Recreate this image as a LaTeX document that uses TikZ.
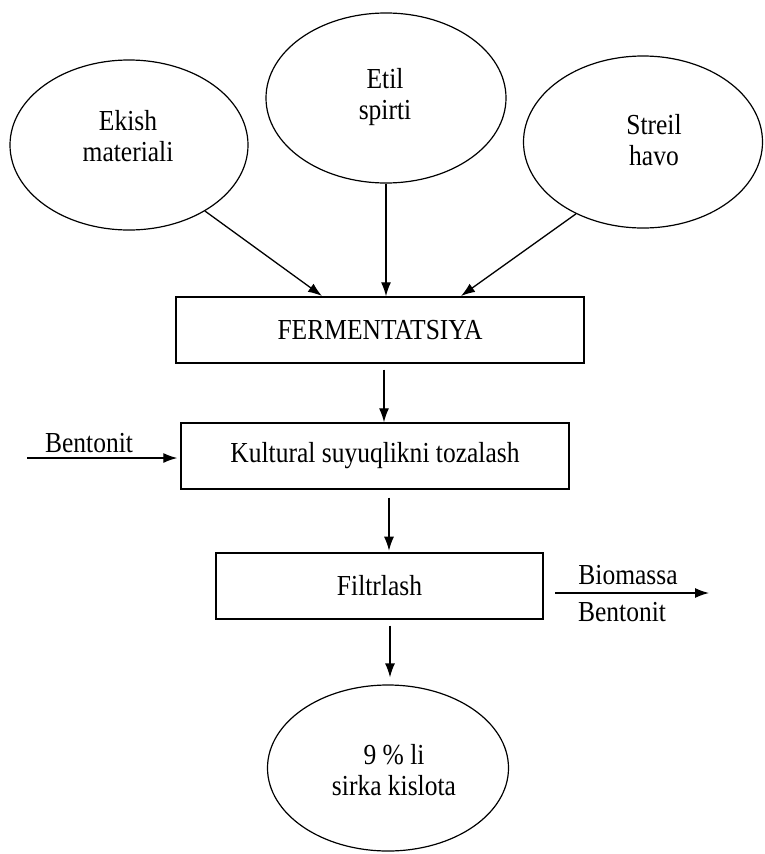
\documentclass[tikz,border=0pt]{standalone}
\usepackage{fontspec}
\setmainfont{Liberation Serif}[FakeStretch=0.88]
\usetikzlibrary{shapes.geometric,arrows.meta,calc}
\begin{document}
\begin{tikzpicture}[x=1pt,y=-1pt,
  every node/.style={font=\fontsize{29}{31}\selectfont},
  feed/.style={ellipse,draw,line width=1.2pt,inner sep=0pt},
  txt/.style={align=center,inner sep=0pt},
  stage/.style={rectangle,draw,line width=1.4pt,minimum height=66pt,inner sep=0pt},
  flow/.style={line width=1.3pt,-{Latex[length=14pt,width=10pt]}}]
\useasboundingbox (0,0) rectangle (765,854);

% raw material inputs
\node[feed,minimum width=238pt,minimum height=170pt] (ek) at (129,145) {};
\node[txt] (ekt) at (128,136) {Ekish\\materiali};
\node[feed,minimum width=240pt,minimum height=170pt] (et) at (386,98) {};
\node[txt] (ett) at (385,97) {Etil\\spirti};
\node[feed,minimum width=239pt,minimum height=172pt] (st) at (643,142) {};
\node[txt] (stt) at (654,140) {Streil\\havo};

% process stages
\node[stage,minimum width=408pt] (ferm) at (380,330) {FERMENTATSIYA};
\node[stage,minimum width=388pt] (kult) at (375,456) {Kultural suyuqlikni tozalash};
\node[stage,minimum width=327pt] (filt) at (379.5,586) {Filtrlash};

% product
\node[feed,minimum width=241pt,minimum height=166pt] (prod) at (388,768) {};
\node[txt] (prodt) at (394,770) {9 \% li\\sirka kislota};

% arrow end points
\coordinate (f1) at (322,296);
\coordinate (f3) at (461,296);
\coordinate (bin) at (27,458);
\coordinate (bo1) at (555,593);
\coordinate (bo2) at (709,593);

% connectors
\draw[flow] (ek.-41.8) -- (f1);
\draw[flow] (et.south) -- (et.south |- ferm.north);
\draw[flow] (st.-133.3) -- (f3);
\draw[flow] ($(ferm.south)+(4,6)$) -- ($(kult.north)+(9,0)$);
\draw[flow] ($(kult.south)+(14,8)$) -- ($(kult.south)+(14,61)$);
\draw[flow] ($(filt.south)+(10.5,6)$) -- ($(prod.north)+(2,-7)$);

% side streams
\draw[flow] (bin) -- ($(kult.west |- bin)+(-3,0)$);
\node (bl) at (89,443) {Bentonit};
\draw[flow] (bo1) -- (bo2);
\node (bm) at (628,575) {Biomassa};
\node (bb) at (622,612) {Bentonit};
\end{tikzpicture}
\end{document}
